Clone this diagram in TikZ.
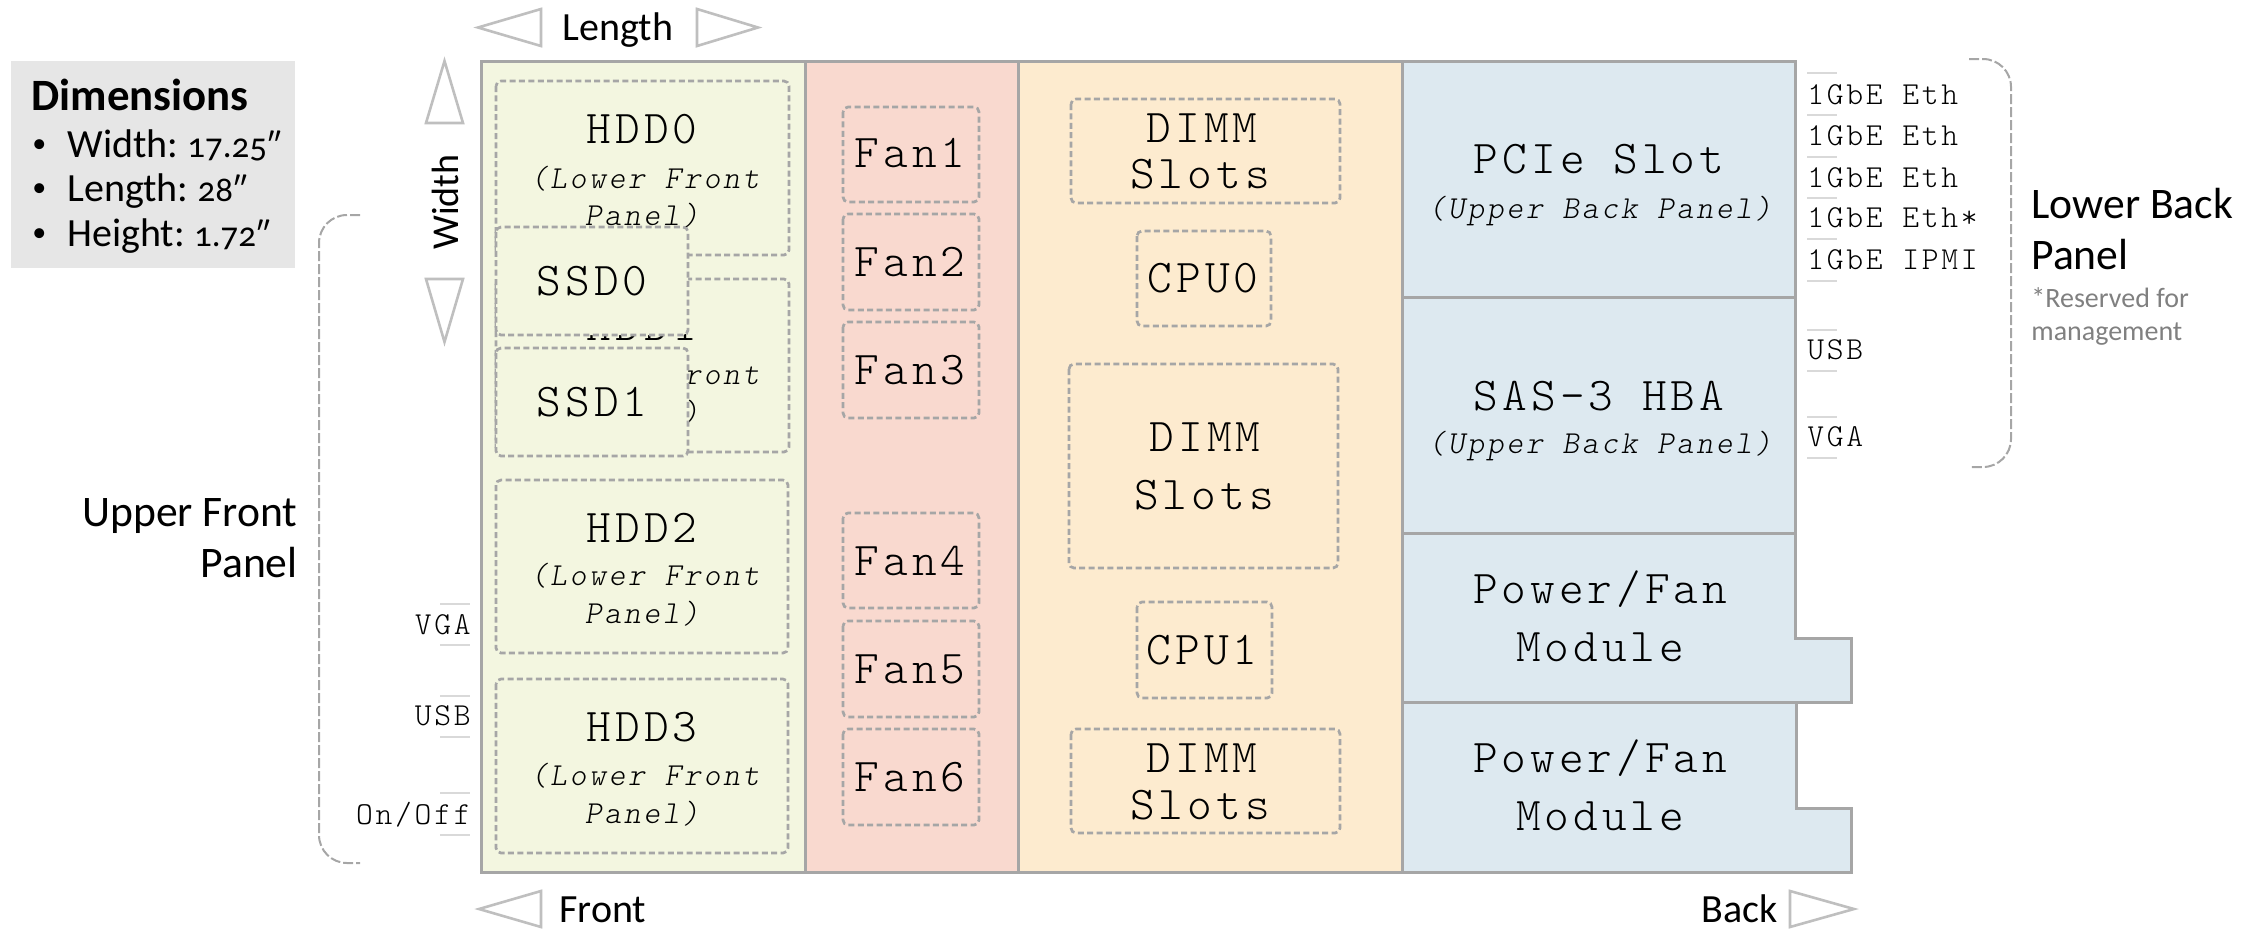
\documentclass[tikz,border=0pt]{standalone}
\usepackage{fontspec}
\usetikzlibrary{shapes.geometric}
\setmainfont{Carlito}[Numbers=OldStyle]
\newfontfamily\monoF{Latin Modern Mono Light}[LetterSpace=8.5]
\definecolor{edgeG}{HTML}{A6A6A6}
\definecolor{triG}{HTML}{BFBFBF}
\definecolor{tickG}{HTML}{D9D9D9}
\definecolor{zGreen}{HTML}{F3F6E0}
\definecolor{zRed}{HTML}{F9D9CF}
\definecolor{zOrange}{HTML}{FDEBCF}
\definecolor{zBlue}{HTML}{DDE9F0}
\definecolor{dimsG}{HTML}{E6E6E6}
\tikzset{
  x=0.5pt,y=-0.5pt,
  zone/.style={draw=edgeG,line width=1.5pt,line join=miter},
  dbox/.style={draw=edgeG,line width=1.35pt,dash pattern=on 3pt off 1.7pt,rounded corners=2.5pt},
  tri/.style={draw=triG,fill=white,line width=1.3pt,line join=miter},
  tick/.style={draw=tickG,line width=1.2pt},
  brace/.style={draw=edgeG,line width=1pt,dash pattern=on 5pt off 1.5pt,rounded corners=14pt},
  big/.style={inner sep=0pt,anchor=base,font=\monoF\fontsize{23.5}{23.5}\selectfont},
  ital/.style={inner sep=0pt,anchor=base,font=\monoF\itshape\fontsize{16}{16}\selectfont},
  port/.style={inner sep=0pt,anchor=base,font=\monoF\fontsize{16}{16}\selectfont},
  sans/.style={inner sep=0pt,anchor=base,font=\fontsize{20}{20}\selectfont},
  panelT/.style={inner sep=0pt,font=\fontsize{21.8}{21.8}\selectfont},
  bull/.style={inner sep=0pt,anchor=base west,font=\fontsize{14}{14}\selectfont},
  small/.style={inner sep=0pt,anchor=base west,text=black!50,font=\fontsize{14}{14}\selectfont},
}
\newcommand{\dboxAt}[6]{% fill, name, x0,y0,x1,y1
  \path[dbox,fill=#1] (#3,#4) rectangle (#5,#6);
  \coordinate (#2) at ({(#3+#5)/2},{(#4+#6)/2});}
\newcommand{\nums}[1]{\hspace{-1.5pt}{\fontsize{17.5}{17.5}\selectfont #1}}
\begin{document}
\begin{tikzpicture}
\useasboundingbox (0,0) rectangle (2264,928);
% dimensions box
\node[fill=dimsG,minimum width=142pt,minimum height=103.5pt,inner sep=0pt,anchor=north west] (dims) at (11,61) {};
\node[sans,anchor=base west,font=\bfseries\fontsize{22.4}{22.4}\selectfont] (dimT) at (31,110) {Dimensions};
\node[bull] (dimA) at (32,152) {•};
\node[bull] (dimB) at (32,196) {•};
\node[bull] (dimC) at (32,241) {•};
\node[sans,anchor=base west] (dimW) at (67,157) {Width: \nums{17.25″}};
\node[sans,anchor=base west] (dimL) at (67,201) {Length: \nums{28″}};
\node[sans,anchor=base west] (dimH) at (67,246) {Height: \nums{1.72″}};
% zones
\path[zone,fill=zGreen] (481,61) rectangle (805,872);
\path[zone,fill=zRed] (805,61) rectangle (1018,872);
\path[zone,fill=zOrange] (1018,61) rectangle (1402,872);
\path[zone,fill=zBlue] (1402,61) rectangle (1795,297);
\path[zone,fill=zBlue] (1402,297) rectangle (1795,533);
\path[zone,fill=zBlue] (1402,533) -- (1795,533) -- (1795,638) -- (1851,638) -- (1851,702) -- (1402,702) -- cycle;
\path[zone,fill=zBlue] (1402,702) -- (1796,702) -- (1796,808) -- (1851,808) -- (1851,872) -- (1402,872) -- cycle;
% HDD boxes
\dboxAt{zGreen}{hdd0}{496}{81}{789}{255}
\node[big] (hdd0t) at (642,143) {HDD0};
\node[ital] (hdd0a) at (645,188) {(Lower Front};
\node[ital] (hdd0b) at (642,225) {Panel)};
\dboxAt{zGreen}{hdd1}{496}{279}{789}{452}
\node[big] (hdd1t) at (642,340) {HDD1};
\node[ital] (hdd1a) at (645,384) {(Lower Front};
\node[ital] (hdd1b) at (642,422) {Panel)};
\dboxAt{zGreen}{ssd0}{496}{227}{688}{335}
\node[big] (ssd0t) at (592,295) {SSD0};
\dboxAt{zGreen}{ssd1}{496}{348}{688}{456}
\node[big] (ssd1t) at (592,416) {SSD1};
\dboxAt{zGreen}{hdd2}{496}{480}{788}{653}
\node[big] (hdd2t) at (642,542) {HDD2};
\node[ital] (hdd2a) at (645,585) {(Lower Front};
\node[ital] (hdd2b) at (642,623) {Panel)};
\dboxAt{zGreen}{hdd3}{496}{679}{788}{853}
\node[big] (hdd3t) at (642,741) {HDD3};
\node[ital] (hdd3a) at (645,785) {(Lower Front};
\node[ital] (hdd3b) at (642,823) {Panel)};
% fans
\dboxAt{zRed}{fan1}{843}{107}{979}{202}
\node[big] (fan1t) at (910,167) {Fan1};
\dboxAt{zRed}{fan2}{843}{214}{979}{310}
\node[big] (fan2t) at (910,276) {Fan2};
\dboxAt{zRed}{fan3}{843}{322}{979}{418}
\node[big] (fan3t) at (910,384) {Fan3};
\dboxAt{zRed}{fan4}{843}{513}{979}{608}
\node[big] (fan4t) at (910,575) {Fan4};
\dboxAt{zRed}{fan5}{843}{621}{979}{717}
\node[big] (fan5t) at (910,683) {Fan5};
\dboxAt{zRed}{fan6}{843}{729}{979}{825}
\node[big] (fan6t) at (910,791) {Fan6};
% DIMM and CPU
\dboxAt{zOrange}{dimm0}{1071}{99}{1340}{203}
\node[big] (dimm0a) at (1202,142) {DIMM};
\node[big] (dimm0b) at (1200,188) {Slots};
\dboxAt{zOrange}{cpu0}{1137}{231}{1271}{326}
\node[big] (cpu0t) at (1203,292) {CPU0};
\dboxAt{zOrange}{dimm1}{1069}{364}{1338}{568}
\node[big] (dimm1a) at (1205,451) {DIMM};
\node[big] (dimm1b) at (1204,509) {Slots};
\dboxAt{zOrange}{cpu1}{1137}{602}{1272}{698}
\node[big] (cpu1t) at (1202,664) {CPU1};
\dboxAt{zOrange}{dimm2}{1071}{729}{1340}{833}
\node[big] (dimm2a) at (1202,772) {DIMM};
\node[big] (dimm2b) at (1200,819) {Slots};
% back panel text
\node[big] (pcie) at (1599,173) {PCIe Slot};
\node[ital] (pcieS) at (1600,218) {(Upper Back Panel)};
\node[big] (sas) at (1599,410) {SAS-3 HBA};
\node[ital] (sasS) at (1600,453) {(Upper Back Panel)};
\node[big] (pf1a) at (1600,603) {Power/Fan};
\node[big] (pf1b) at (1600,661) {Module};
\node[big] (pf2a) at (1600,772) {Power/Fan};
\node[big] (pf2b) at (1600,830) {Module};
% arrows
\path[tri] (478,27.5) -- (541,9) -- (541,46) -- cycle;
\path[tri] (758,27.5) -- (697,9) -- (697,46) -- cycle;
\path[tri] (444.5,61) -- (463,123) -- (426,123) -- cycle;
\path[tri] (444.5,342) -- (463,279) -- (426,279) -- cycle;
\path[tri] (479,909) -- (541,891) -- (541,927) -- cycle;
\path[tri] (1854,909) -- (1790,891) -- (1790,927) -- cycle;
\node[sans] (len) at (618,40) {Length};
\node[sans,anchor=base west] (front) at (559,922) {Front};
\node[sans,anchor=base west] (back) at (1701,922) {Back};
\node[sans,rotate=90,font=\fontsize{19}{19}\selectfont] (wid) at (458,202) {Width};
% front ports
\foreach \y in {604,645,696,737,793,835}{\draw[tick] (440,\y) -- (470,\y);}
\node[port,anchor=base east] (pvga) at (471,634) {VGA};
\node[port,anchor=base east] (pusb) at (471,725) {USB};
\node[port,anchor=base east] (ponf) at (471,824) {On/Off};
% back ports
\foreach \y in {73,115,157,198,239,281,330,371,417,458}{\draw[tick] (1807,\y) -- (1837,\y);}
\node[port,anchor=base west] (e1) at (1807,104) {1GbE Eth};
\node[port,anchor=base west] (e2) at (1807,145) {1GbE Eth};
\node[port,anchor=base west] (e3) at (1807,187) {1GbE Eth};
\node[port,anchor=base west] (e4) at (1807,227) {1GbE Eth*};
\node[port,anchor=base west] (e5) at (1807,269) {1GbE IPMI};
\node[port,anchor=base west] (e6) at (1807,359) {USB};
\node[port,anchor=base west] (e7) at (1807,446) {VGA};
% braces
\coordinate (bl0) at (360,215);
\coordinate (bl1) at (360,863);
\coordinate (br0) at (1969,59);
\coordinate (br1) at (1969,467);
\draw[brace] (bl0) -- (319,215) -- (319,863) -- (bl1);
\draw[brace] (br0) -- (2011,59) -- (2011,467) -- (br1);
% panel labels
\node[panelT,anchor=base east] (ufp1) at (298,526) {Upper Front};
\node[panelT,anchor=base east] (ufp2) at (298,577) {Panel};
\node[panelT,anchor=base west] (lbp1) at (2031,218) {Lower Back};
\node[panelT,anchor=base west] (lbp2) at (2031,269) {Panel};
\node[small] (res1) at (2031,307) {*Reserved for};
\node[small] (res2) at (2031,340) {management};
\end{tikzpicture}
\end{document}
